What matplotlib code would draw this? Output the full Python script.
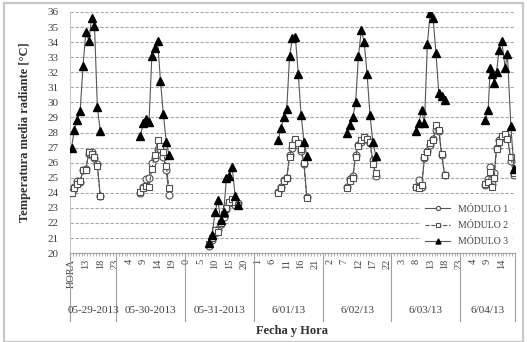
import numpy as np
import matplotlib
matplotlib.use("Agg")
import matplotlib.pyplot as plt
from matplotlib.patches import Rectangle
import matplotlib.transforms as mtransforms

plt.rcParams['font.family'] = ['Liberation Serif', 'DejaVu Serif']

# fechas (grupos del eje x) y horas de medicion
fechas = ["05-29-2013", "05-30-2013", "05-31-2013", "6/01/13", "6/02/13", "6/03/13", "6/04/13"]
horas_dia = [8, 9, 10, 11, 12, 13, 14, 15, 16, 17, 18]
horas_ult = [8, 9.2, 9.9, 10.7, 11.3, 12.1, 13, 13.9, 15.1, 15.9, 17.1, 18.2]
horas = [horas_dia] * 6 + [horas_ult]

# temperatura media radiante [C] por dia
modulo1 = [
    [24.05, 24.4, 24.8, 24.7, 25.5, 25.6, 26.6, 26.7, 26.3, 25.9, 23.8],
    [24.0, 24.4, 24.9, 25.0, 26.0, 26.3, 26.9, 26.9, 26.4, 25.5, 23.85],
    [20.5, 20.9, 21.3, 21.6, 21.9, 22.4, 22.9, 23.3, 23.5, 23.2, 23.3],
    [24.07, 24.4, 24.85, 25.0, 26.5, 27.0, 27.5, 27.2, 26.8, 25.9, 23.7],
    [24.4, 24.9, 25.1, 26.5, 27.2, 27.4, 27.6, 27.6, 27.3, 26.2, 25.1],
    [24.4, 24.85, 24.4, 26.3, 26.8, 27.2, 27.6, 28.2, 28.1, 26.5, 25.2],
    [24.5, 24.9, 25.7, 24.6, 25.3, 27.0, 27.5, 27.7, 27.8, 27.7, 26.1, 25.2],
]
modulo2 = [
    [24.0, 24.3, 24.6, 24.8, 25.5, 25.5, 26.7, 26.6, 26.4, 25.8, 23.8],
    [24.05, 24.3, 24.45, 24.4, 25.6, 26.5, 27.5, 27.1, 26.7, 25.8, 24.3],
    [20.6, 21.0, 21.5, 21.4, 22.0, 22.6, 23.0, 23.4, 23.6, 23.4, 23.2],
    [24.0, 24.3, 24.8, 25.0, 26.4, 27.2, 27.6, 27.3, 26.9, 26.0, 23.67],
    [24.3, 24.8, 25.0, 26.4, 27.1, 27.5, 27.7, 27.6, 27.4, 25.9, 25.3],
    [24.4, 24.3, 24.5, 26.4, 26.7, 27.3, 27.5, 28.5, 28.2, 26.6, 25.2],
    [24.6, 24.7, 25.4, 24.4, 25.0, 26.9, 27.4, 27.8, 27.9, 27.6, 26.4, 25.3],
]
modulo3 = [
    [27.0, 28.2, 28.85, 29.4, 32.4, 34.7, 34.1, 35.6, 35.1, 29.7, 28.1],
    [27.8, 28.6, 28.9, 28.7, 33.1, 33.6, 34.1, 31.4, 29.2, 27.4, 26.5],
    [20.7, 21.2, 22.7, 23.5, 22.2, 22.7, 25.0, 25.1, 25.7, 23.8, 23.2],
    [27.5, 28.3, 29.05, 29.56, 33.1, 34.25, 34.37, 31.9, 29.16, 27.4, 26.46],
    [28.0, 28.5, 29.0, 30.0, 33.1, 34.8, 34.0, 31.9, 29.16, 27.4, 26.46],
    [28.1, 28.6, 29.5, 28.6, 33.9, 35.9, 35.6, 33.26, 30.6, 30.45, 30.16],
    [28.8, 29.5, 32.3, 31.9, 31.3, 32.0, 33.5, 34.1, 32.3, 33.2, 28.4, 25.6],
]


def serie(valores):
    # horas continuas desde 05-29 00:00, con NaN entre dias
    xs, ys = [], []
    for d, (h, v) in enumerate(zip(horas, valores)):
        xs += [d * 24 + hh for hh in h] + [np.nan]
        ys += list(v) + [np.nan]
    return np.array(xs), np.array(ys)


fig = plt.figure(figsize=(5.27, 3.42), dpi=100)
ax = fig.add_axes([0.133, 0.26, 0.844, 0.705])

fig.patches.append(Rectangle((0.008, 0.0), 0.984, 0.99, transform=fig.transFigure,
                             fill=False, edgecolor="#c8c8c8", linewidth=1.6))

linea = "#555555"
x1, y1 = serie(modulo1)
x2, y2 = serie(modulo2)
x3, y3 = serie(modulo3)
ax.plot(x1, y1, color=linea, lw=0.8, marker="o", ms=5, mfc="white", mec="#505050",
        mew=0.8, label="MÓDULO 1", zorder=3)
ax.plot(x2, y2, color=linea, lw=0.8, ls="--", marker="s", ms=5, mfc="white", mec="#505050",
        mew=0.8, label="MÓDULO 2", zorder=3)
ax.plot(x3, y3, color=linea, lw=0.8, marker="^", ms=6, mfc="black", mec="black",
        label="MÓDULO 3", zorder=4)

ax.set_ylim(20, 36)
ax.set_yticks(range(20, 37))
ax.set_xlim(7.5, 162.5)

ax.grid(axis="y", color="#a8a8a8", ls=(0, (3, 1.5)), lw=0.8)
ax.set_axisbelow(True)

# etiquetas de hora cada 5 categorias
mayor = list(range(8, 163, 5))
ax.set_xticks(mayor)
ax.set_xticklabels(["HORA" if t == 8 else str(t % 24) for t in mayor], rotation=90,
                   fontsize=7.5, color="#404040")
ax.set_xticks(np.arange(7.5, 163, 1), minor=True)
ax.tick_params(axis="x", which="major", length=0, pad=4)
ax.tick_params(axis="x", which="minor", length=2, color="#a0a0a0", width=0.6)
ax.tick_params(axis="y", length=0, pad=8, labelsize=8, labelcolor="#404040")

for s in ["top", "right"]:
    ax.spines[s].set_visible(False)
ax.spines["left"].set_color("#c8c8c8")
ax.spines["left"].set_linewidth(0.8)
ax.spines["bottom"].set_color("#a0a0a0")
ax.spines["bottom"].set_linewidth(0.8)

# separadores y etiquetas de fecha
trans = mtransforms.blended_transform_factory(ax.transData, ax.transAxes)
bordes = [7.5] + [23.5 + 24 * k for k in range(6)] + [162.5]
for b in bordes:
    ax.plot([b, b], [0, -0.28], transform=trans, color="#a0a0a0", lw=0.8, clip_on=False)
for i, f in enumerate(fechas):
    ax.text((bordes[i] + bordes[i + 1]) / 2, -0.24, f, transform=trans, ha="center",
            va="center", fontsize=8, color="#404040")

ax.set_xlabel("Fecha y Hora", fontsize=9, fontweight="bold", color="#303030", labelpad=27)
ax.set_ylabel("Temperatura media radiante [°C]", fontsize=9, fontweight="bold",
              color="#303030", labelpad=12)

leg = ax.legend(loc="lower right", bbox_to_anchor=(1.0, 0.0), fontsize=7, markerscale=0.6,
                handlelength=2.6, labelspacing=0.75, frameon=True, fancybox=False,
                borderaxespad=0.3)
leg.get_frame().set_edgecolor("white")
leg.get_frame().set_facecolor("white")
leg.get_frame().set_alpha(1)
for t in leg.get_texts():
    t.set_color("#404040")

plt.savefig("out.png", dpi=100)
